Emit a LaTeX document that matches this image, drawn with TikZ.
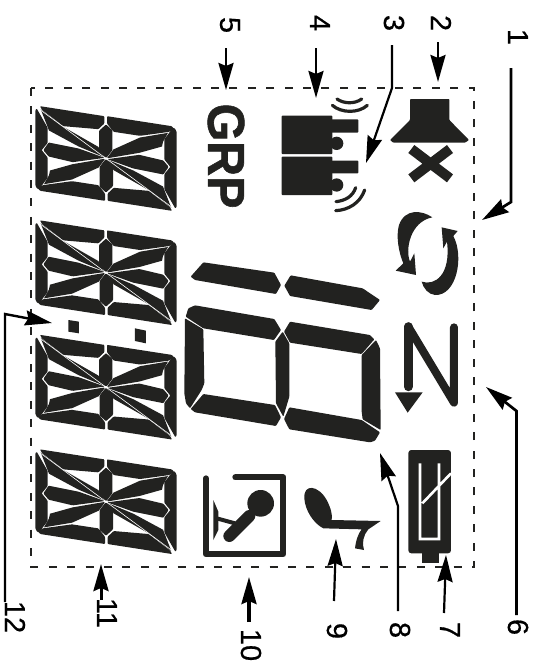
\documentclass[tikz,border=0pt]{standalone}
\usepackage{fontspec}
\setmainfont{Liberation Sans}
\newfontfamily\grpf[BoldFeatures={FakeBold=1.2}]{Liberation Sans}
\newfontfamily\lblf[FakeBold=0.5]{Liberation Sans}
\usetikzlibrary{arrows.meta}
\definecolor{ink}{HTML}{222220}
\tikzset{
  seg/.style={fill=ink,draw=none,rounded corners=0.8pt},
  numlabel/.style={rotate=-90,font=\lblf\fontsize{29}{29}\selectfont,inner sep=0pt,text=black},
  callout/.style={draw=black,line width=2.7pt,-{Stealth[length=27pt,width=15pt,inset=3pt]}},
  calloutthin/.style={callout,line width=2.2pt},
  zoomz/.style={x=0.33333pt,y=-0.33333pt},
}
\newcommand{\halfdigit}{%
  \fill[seg] (-198,-157)--(-5,-127)--(-5,-105)--(-23,-88)--(-128,-97)--(-192,-146)--cycle;
  \fill[seg] (3,-127)--(197,-97)--(204,-90)--(190,-80)--(102,-68)--(23,-80)--(3,-105)--cycle;
  \fill[seg] (0,-102)--(19,-85)--(19,-25)--(2,-3)--(-2,-3)--(-21,-27)--(-21,-83)--cycle;
  \fill[fill=ink] (-196,-148)--(-128,-95)--(-23,-35)--(-3,-3)--(-82,-36)--(-171,-84)--cycle;
  \fill[fill=ink] (186,-77)--(102,-63)--(22,-27)--(4,-3)--(6,-1)--(100,-17)--(168,-36)--(171,-50)--cycle;
  \fill[seg] (4,2)--(100,-11)--(172,6)--(188,25)--(172,48)--(82,30)--cycle;
  \fill[seg] (-208,-150)--(-175,-92)--(-175,-47)--(-193,-25)--(-175,-3)--(-175,58)--(-201,92)--(-207,90)--(-212,80)--(-212,-145)--cycle;
  \draw[white,line width=0.6pt] (-204,-151)--(0,0);
}
\newcommand{\lcddigit}[2]{%
  \begin{scope}[shift={(#1,#2)},zoomz]\halfdigit\end{scope}
  \begin{scope}[shift={(#1,#2)},x=-0.33333pt,y=0.33333pt]\halfdigit\end{scope}
}
\begin{document}
\begin{tikzpicture}[x=1pt,y=-1pt]
\useasboundingbox (0,0) rectangle (539,662);
% dashed outline
\draw[ink,line width=1.7pt,dash pattern=on 8pt off 10.4pt] (31,88) rectangle (474,567);
% 14-segment digits
\lcddigit{106}{158.5}
\lcddigit{106}{272.7}
\lcddigit{106}{387.2}
\lcddigit{106}{501.7}
% colon
\begin{scope}[shift={(0,80)},zoomz]
  \fill[ink] (205,720)--(237,725)--(237,760)--(205,755)--cycle;
  \fill[ink] (405,745)--(438,752)--(438,790)--(405,783)--cycle;
\end{scope}
% large 7-segment digits
\begin{scope}[shift={(170,220)},zoomz]
  \fill[seg] (100,127)--(313,158)--(333,195)--(318,222)--(75,180)--(62,170)--cycle;
  \fill[seg] (362,166)--(578,205)--(630,240)--(605,270)--(360,228)--(343,197)--cycle;
  \fill[seg] (75,256)--(313,297)--(333,330)--(312,360)--(100,325)--(47,290)--(55,265)--cycle;
  \fill[seg] (360,305)--(600,345)--(613,358)--(575,402)--(360,368)--(342,335)--cycle;
  \fill[seg] (45,295)--(100,328)--(103,490)--(95,510)--(60,565)--(48,550)--(43,520)--cycle;
  \fill[seg] (338,335)--(358,370)--(358,530)--(340,590)--(318,550)--(316,365)--cycle;
  \fill[seg] (618,360)--(630,385)--(632,630)--(578,598)--(575,575)--(575,405)--cycle;
  \fill[seg] (100,522)--(315,555)--(333,592)--(318,618)--(75,577)--(62,567)--cycle;
  \fill[seg] (358,562)--(575,600)--(630,637)--(615,662)--(600,667)--(358,628)--(342,597)--cycle;
  % N with arrow
  \draw[ink,line width=9pt,line cap=round,line join=round] (715,320)--(715,500);
  \draw[ink,line width=8pt,line cap=round,line join=round] (715,320)--(852,548)--(852,322);
  \fill[ink] (675,517)--(758,517)--(713,578)--cycle;
\end{scope}
% rotation arrows
\begin{scope}[shift={(385,200)},zoomz]
  \fill[ink] (142,52) .. controls (110,30) and (60,25) .. (42,75) .. controls (32,110) and (42,160) .. (55,190)
     -- (32,212) -- (93,225) -- (88,160) -- (75,185) .. controls (60,150) and (75,65) .. (142,52) -- cycle;
  \fill[ink] (170,82) -- (218,93) -- (205,108) .. controls (238,170) and (215,288) .. (150,285)
     .. controls (130,283) and (115,265) .. (110,245) .. controls (150,258) and (198,225) .. (186,125) -- (175,145) -- cycle;
\end{scope}
% speaker, x, headset icons
\begin{scope}[shift={(270,0)},zoomz]
  \fill[seg] (420,297)--(538,297)--(538,360)--(597,420)--(585,428)--(370,428)--(360,420)--(420,360)--cycle;
  \draw[ink,line width=10pt,line cap=butt] (424,447)--(540,535) (540,447)--(424,535);
  \fill[seg] (35,347) rectangle (187,462);
  \fill[seg] (180,358) rectangle (265,398);
  \fill[ink] (200,430) circle (20);
  \fill[seg] (35,470) rectangle (187,585);
  \fill[seg] (180,482) rectangle (265,520);
  \fill[ink] (200,555) circle (20);
  \draw[ink,line width=3.2pt,line cap=round] (187,316) .. controls (215,340) and (265,340) .. (292,316);
  \draw[ink,line width=3.2pt,line cap=round] (201,297) .. controls (222,312) and (255,312) .. (275,297);
  \draw[ink,line width=3.2pt,line cap=round] (197,632) .. controls (235,630) and (270,610) .. (284,570);
  \draw[ink,line width=3.2pt,line cap=round] (198,605) .. controls (225,602) and (248,590) .. (257,563);
\end{scope}
% GRP
\node[rotate=-90,xscale=0.93,inner sep=0pt,text=ink,font=\grpf\fontsize{52}{52}\selectfont\bfseries] (grp) at (226,156) {GRP};
% battery, phone and microphone icons
\begin{scope}[shift={(190,440)},zoomz]
  \fill[ink,rounded corners=3pt] (655,30) rectangle (783,340);
  \fill[ink] (695,335) rectangle (747,370);
  \draw[white,line width=2.6pt] (690,70)--(690,297)--(747,297)--(747,70) (697,190)--(783,100);
  \fill[ink] (343,175) .. controls (340,130) and (385,135) .. (410,180) .. controls (423,205) and (428,225) .. (425,240)
     -- (572,243) -- (535,268) .. controls (520,285) and (515,310) .. (522,330) -- (495,325) .. controls (498,300) and (505,280) .. (515,268)
     -- (400,265) .. controls (370,250) and (345,210) .. (343,175) -- cycle;
  \draw[ink,line width=6pt,line cap=round,line join=round] (136,112)--(280,112)--(280,343)--(48,343)--(48,115);
  \fill[ink] (212,190) circle (40);
  \draw[ink,line width=12pt,line cap=round] (178,228)--(118,288);
  \draw[ink,line width=4pt] (80,235)--(135,250);
  \fill[ink] (70,180)--(85,215)--(85,270)--(70,300)--cycle;
\end{scope}
% labels
\node[numlabel] (l1) at (518,37) {1};
\node[numlabel] (l2) at (441,23) {2};
\node[numlabel] (l3) at (394,23) {3};
\node[numlabel] (l4) at (320,23) {4};
\node[numlabel] (l5) at (230,25) {5};
\node[numlabel] (l6) at (518,627) {6};
\node[numlabel] (l7) at (450,630) {7};
\node[numlabel] (l8) at (400,630) {8};
\node[numlabel] (l9) at (337,631) {9};
\node[numlabel] (l10) at (251,645) {10};
\node[numlabel] (l11) at (107,613) {11};
\node[numlabel] (l12) at (15,617) {12};
% connector ends
\coordinate (s1) at (511,68); \coordinate (b1) at (511,202); \coordinate (t1) at (482,220);
\coordinate (s2) at (438,42); \coordinate (t2) at (438,82);
\coordinate (s3) at (392,45); \coordinate (b3) at (392,88); \coordinate (t3) at (366,163);
\coordinate (s4) at (316,48); \coordinate (t4) at (316,98);
\coordinate (s5) at (226,48); \coordinate (t5) at (226,90);
\coordinate (s6) at (516.5,615); \coordinate (b6) at (516.5,411); \coordinate (t6) at (486,387);
\coordinate (s7) at (444,613); \coordinate (t7) at (446,555);
\coordinate (s8) at (398,611); \coordinate (b8) at (398,506); \coordinate (t8) at (380,453);
\coordinate (s9) at (334,601); \coordinate (t9) at (336,539);
\coordinate (s10) at (249,622); \coordinate (t10) at (249,577);
\coordinate (s11) at (101,600); \coordinate (t11) at (101,564);
\coordinate (s12) at (5,602); \coordinate (b12) at (5,314); \coordinate (t12) at (52,323);
% connectors
\draw[callout] (s1)--(b1)--(t1);
\draw[callout] (s2)--(t2);
\draw[callout,line width=2.2pt] (s3)--(b3)--(t3);
\draw[callout] (s4)--(t4);
\draw[callout] (s5)--(t5);
\draw[callout] (s6)--(b6)--(t6);
\draw[calloutthin] (s7)--(t7);
\draw[calloutthin] (s8)--(b8)--(t8);
\draw[calloutthin] (s9)--(t9);
\draw[callout,line width=3.2pt] (s10)--(t10);
\draw[callout,line width=3pt] (s11)--(t11);
\draw[callout,line width=2.4pt] (s12)--(b12)--(t12);
\end{tikzpicture}
\end{document}
